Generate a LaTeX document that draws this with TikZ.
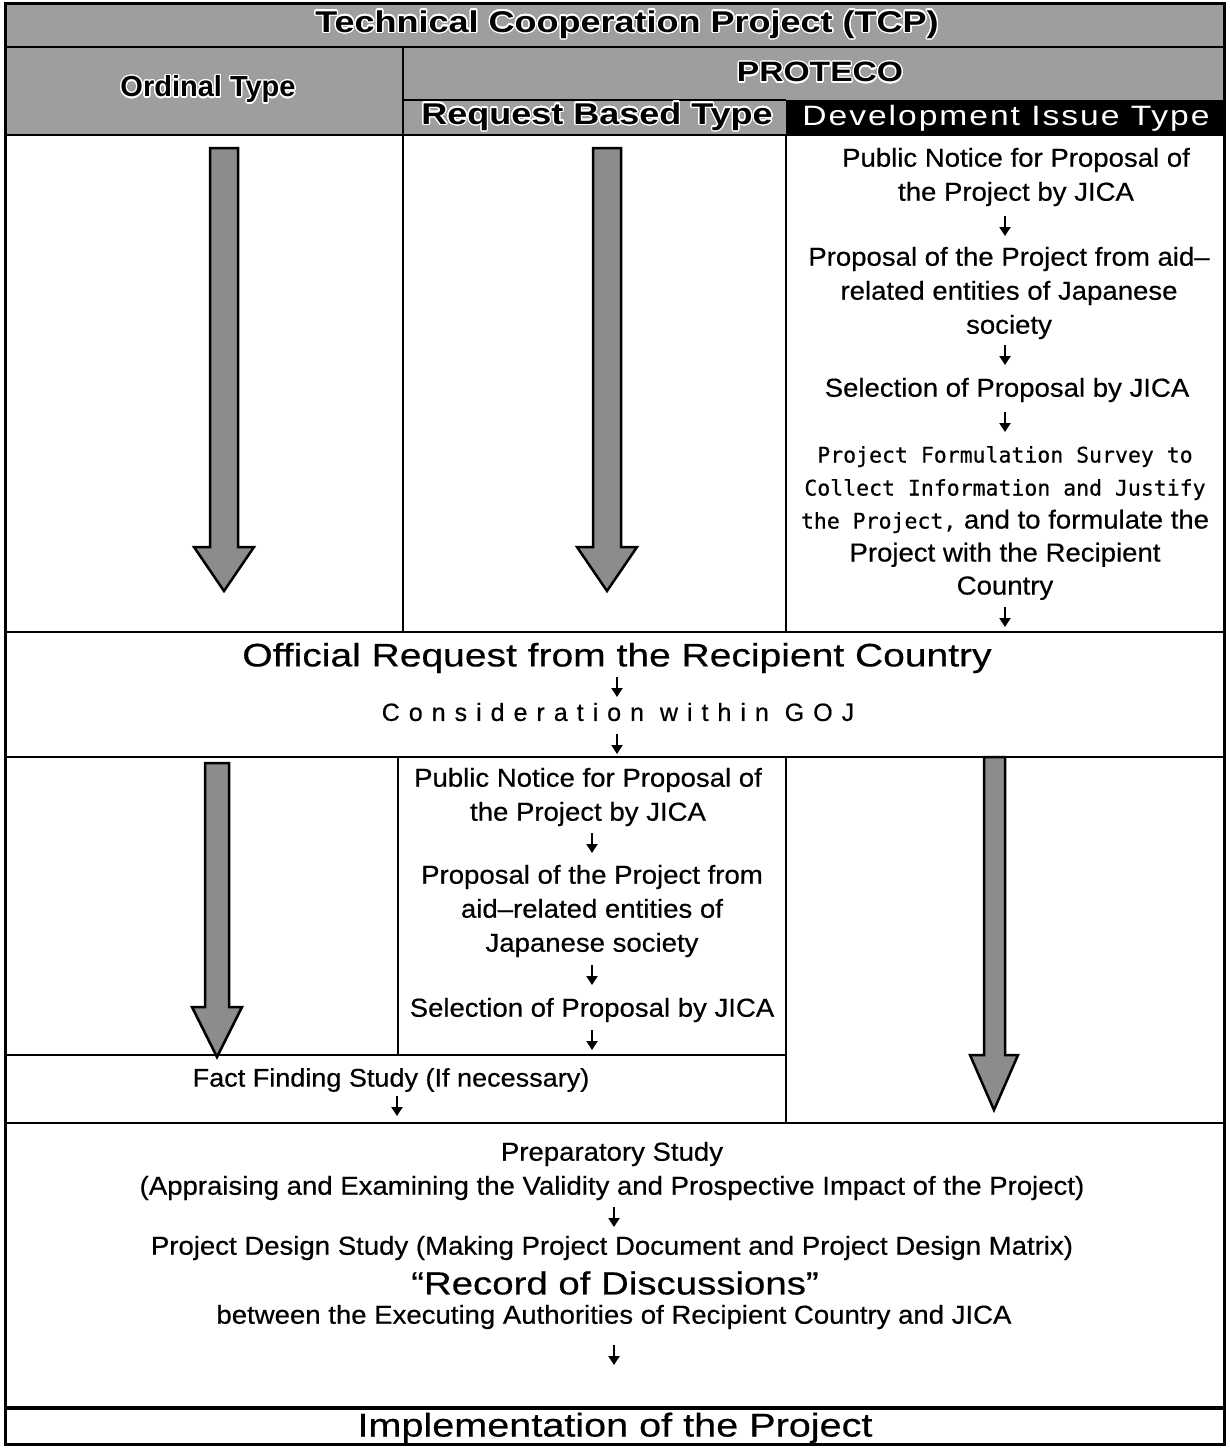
\documentclass[tikz,border=0pt]{standalone}
\usepackage{fontspec}
\usepackage[copies]{contour}
\usetikzlibrary{arrows.meta}
\setmainfont{Liberation Sans}
\newfontfamily\bodyf[FakeStretch=1.06,FakeBold=0.5]{Liberation Sans}
\newfontfamily\monof[FakeBold=0.5]{DejaVu Sans Mono}
\newfontfamily\bigf[FakeStretch=1.2,FakeBold=0.5]{Liberation Sans}
\newfontfamily\hdrf[FakeStretch=1.2]{Liberation Sans Bold}
\newfontfamily\hdrnf{Liberation Sans Bold}
\newfontfamily\devf[FakeStretch=1.2,LetterSpace=7]{Liberation Sans}
\newfontfamily\spacedf[LetterSpace=36,FakeBold=0.5]{Liberation Sans}
\contourlength{1.3pt}
\contournumber{24}
\begin{document}
\begin{tikzpicture}[x=1pt,y=-1pt,
  frame/.style={line width=3pt},
  rule/.style={line width=2pt},
  hdrfill/.style={fill=black!38},
  body/.style={font=\bodyf\fontsize{26}{34}\selectfont, inner sep=0pt, align=center},
  bigtxt/.style={font=\bigf\fontsize{32.5}{36}\selectfont, inner sep=0pt},
  hdr/.style={font=\hdrf\fontsize{30}{32}\selectfont, inner sep=0pt},
  darrow/.style={minimum width=16pt, minimum height=20pt, inner sep=0pt,
    path picture={\draw[line width=2.2pt, -{Triangle[length=9pt,width=11pt]}]
      (path picture bounding box.north) -- (path picture bounding box.south);}},
  bigarrow/.style={draw=black, line width=2.5pt, fill=black!45, line join=miter}
]
\useasboundingbox (0,0) rectangle (1229,1448);
\fill[white] (0,0) rectangle (1229,1448);

% ---------- header ----------
\fill[hdrfill] (5,3) rectangle (1224,135);
\fill[black] (786,100) rectangle (1224,135);
\draw[rule] (5,47) -- (1224,47);
\draw[rule] (403,47) -- (403,135);
\draw[rule] (403,100) -- (786,100);
\draw[rule] (5,135) -- (1224,135);

\node[hdr] (tcp) at (627,25) {\contour{white}{Technical Cooperation Project (TCP)}};
\node[hdr, font=\hdrnf\fontsize{29}{32}\selectfont] (ordinal) at (208,90) {\contour{white}{Ordinal Type}};
\node[hdr, font=\hdrf\fontsize{28}{32}\selectfont] (proteco) at (820,73) {\contour{white}{PROTECO}};
\node[hdr] (reqbased) at (597,117) {\contour{white}{Request Based Type}};
\node[font=\devf\fontsize{28}{30}\selectfont, text=white, inner sep=0pt] (devissue) at (1006,118) {Development Issue Type};

% ---------- section 1 ----------
\draw[rule] (403,135) -- (403,632);
\draw[rule] (786,135) -- (786,632);

\draw[bigarrow] (210,148) -- (238,148) -- (238,547) -- (254,547) -- (224,591) -- (194,547) -- (210,547) -- cycle;
\draw[bigarrow] (593,148) -- (621,148) -- (621,547) -- (637,547) -- (607,591) -- (577,547) -- (593,547) -- cycle;

\node[body] (d1) at (1016,177) {Public Notice for Proposal of\\the Project by JICA};
\node[darrow] (da1) at (1005,226) {};
\node[body] (d2) at (1009,293) {Proposal of the Project from aid–\\related entities of Japanese\\society};
\node[darrow] (da2) at (1005,355) {};
\node[body] (d3) at (1007,390) {Selection of Proposal by JICA};
\node[darrow] (da3) at (1005,422) {};
\node[body, font=\bodyf\fontsize{26}{33}\selectfont] (d4) at (1005,523) {{\monof\fontsize{21.5}{33}\selectfont Project Formulation Survey to}\\
  {\monof\fontsize{21.5}{33}\selectfont Collect Information and Justify}\\
  {\monof\fontsize{21.5}{33}\selectfont the Project,} and to formulate the\\
  Project with the Recipient\\Country};
\node[darrow] (da4) at (1005,617) {};

% ---------- section 2 ----------
\draw[rule] (5,632) -- (1224,632);
\node[bigtxt] (official) at (617,658) {Official Request from the Recipient Country};
\node[darrow] (oa1) at (617,687) {};
\node[font=\spacedf\fontsize{25}{28}\selectfont, inner sep=0pt] (goj) at (618,712) {Consideration within GOJ};
\node[darrow] (oa2) at (617,744) {};

% ---------- section 3 ----------
\draw[rule] (5,757) -- (1224,757);
\draw[rule] (398,757) -- (398,1055);
\draw[rule] (5,1055) -- (786,1055);
\draw[rule] (786,757) -- (786,1123);

\draw[bigarrow] (205,763) -- (229,763) -- (229,1007) -- (242,1007) -- (217,1057) -- (192,1007) -- (205,1007) -- cycle;
\draw[bigarrow] (984,757) -- (1005,757) -- (1005,1055) -- (1018,1055) -- (994,1110) -- (970,1055) -- (984,1055) -- cycle;

\node[body] (m1) at (588,797) {Public Notice for Proposal of\\the Project by JICA};
\node[darrow] (ma1) at (592,843) {};
\node[body] (m2) at (592,911) {Proposal of the Project from\\aid–related entities of\\Japanese society};
\node[darrow] (ma2) at (592,975) {};
\node[body] (m3) at (592,1010) {Selection of Proposal by JICA};
\node[darrow] (ma3) at (592,1040) {};

\node[body, font=\bodyf\fontsize{25.5}{34}\selectfont] (fact) at (391,1080) {Fact Finding Study (If necessary)};
\node[darrow] (fa) at (397,1106) {};

% ---------- section 4 ----------
\draw[rule] (5,1123) -- (1224,1123);
\node[body] (prep) at (612,1171) {Preparatory Study\\(Appraising and Examining the Validity and Prospective Impact of the Project)};
\node[darrow] (pa1) at (614,1217) {};
\node[body] (design) at (612,1248) {Project Design Study (Making Project Document and Project Design Matrix)};
\node[bigtxt, font=\bigf\fontsize{32}{34}\selectfont] (rod) at (615,1283) {“Record of Discussions”};
\node[body] (between) at (614,1317) {between the Executing Authorities of Recipient Country and JICA};
\node[darrow] (pa2) at (614,1355) {};

% ---------- section 5 ----------
\draw[line width=4pt] (5,1408) -- (1224,1408);
\node[bigtxt, font=\bigf\fontsize{33}{34}\selectfont] (impl) at (615,1428) {Implementation of the Project};

% ---------- outer frame ----------
\draw[frame] (5,3) rectangle (1224,1444);
\end{tikzpicture}
\end{document}
